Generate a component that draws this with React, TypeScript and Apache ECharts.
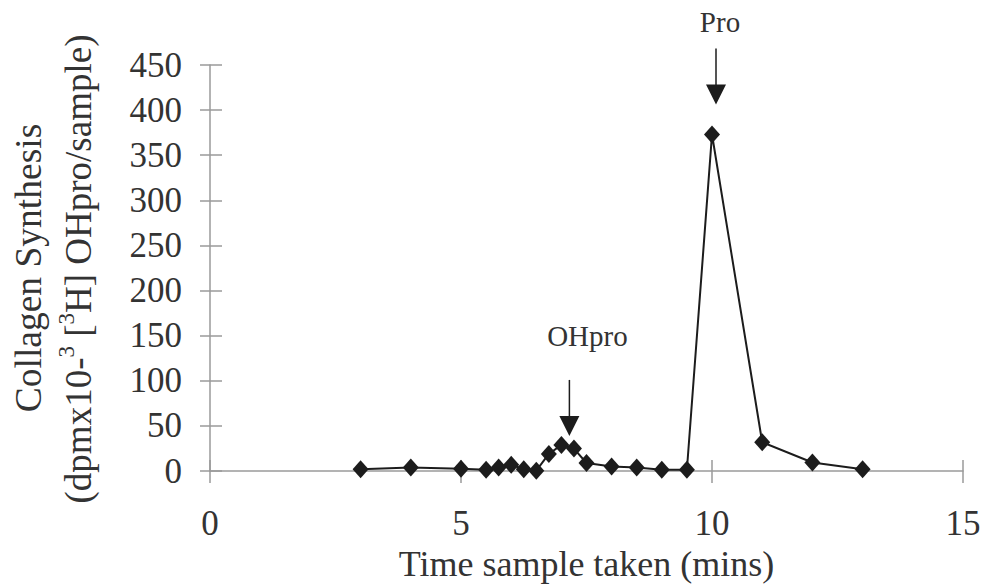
import React, { useEffect, useRef } from "react";
import * as echarts from "echarts";

const timeMins = [3, 4, 5, 5.5, 5.75, 6, 6.25, 6.5, 6.75, 7, 7.25, 7.5, 8, 8.5, 9, 9.5, 10, 11, 12, 13];
const synthesis = [2, 4, 2.5, 1.5, 4, 7, 2, 0.5, 19, 29, 25, 9, 5, 4, 1.5, 1.5, 373, 32, 9.5, 2];
const xTicks = [0, 5, 10, 15];
const yTicks = [0, 50, 100, 150, 200, 250, 300, 350, 400, 450];
const annotationLabels = ["OHpro", "Pro"];
const annotationTimes = [7, 10];
const annotationValues = [29, 373];

const FONT = "Liberation Serif";
const AXIS = "#9a9a9a";
const INK = "#1c1c1c";
const TEXT = "#333333";

// placement of the arrows relative to the pointed-at point (pixels)
const arrowLayout = [
  { dx: 8, tipGap: 9, textDx: 26, textGap: 44 },
  { dx: 4, tipGap: 30, textDx: 8, textGap: 26 },
];

export default function App() {
  const ref = useRef<HTMLDivElement>(null);
  useEffect(() => {
    if (!ref.current) return;
    const chart = echarts.init(ref.current, undefined, { renderer: "svg" });
    const grid = { left: 210, right: 22, top: 65, bottom: 114 };
    const xBase = {
      type: "value" as const,
      min: xTicks[0],
      max: xTicks[xTicks.length - 1],
      interval: 5,
      splitLine: { show: false },
    };
    const yBase = {
      type: "value" as const,
      min: yTicks[0],
      max: yTicks[yTicks.length - 1],
      interval: 50,
      splitLine: { show: false },
    };
    chart.setOption({
      animation: false,
      backgroundColor: "#ffffff",
      textStyle: { fontFamily: FONT },
      grid,
      xAxis: [
        {
          ...xBase,
          position: "bottom",
          axisLine: { show: true, onZero: false, lineStyle: { color: AXIS, width: 1.5 } },
          axisTick: { show: true, inside: false, length: 12, lineStyle: { color: AXIS, width: 1.5 } },
          axisLabel: { fontFamily: FONT, fontSize: 35, color: TEXT, margin: 35 },
          name: "Time sample taken (mins)",
          nameLocation: "middle",
          nameGap: 73,
          nameTextStyle: { fontFamily: FONT, fontSize: 36, color: TEXT },
        },
        {
          ...xBase,
          position: "bottom",
          axisLine: { show: false, onZero: false },
          axisTick: { show: true, inside: true, length: 11, lineStyle: { color: AXIS, width: 1.5 } },
          axisLabel: { show: false },
        },
      ],
      yAxis: [
        {
          ...yBase,
          position: "left",
          axisLine: { show: true, onZero: false, lineStyle: { color: AXIS, width: 1.5 } },
          axisTick: { show: true, inside: false, length: 10, lineStyle: { color: AXIS, width: 1.5 } },
          axisLabel: { fontFamily: FONT, fontSize: 35, color: TEXT, margin: 28 },
        },
        {
          ...yBase,
          position: "left",
          axisLine: { show: false, onZero: false },
          axisTick: { show: true, inside: true, length: 12, lineStyle: { color: AXIS, width: 1.5 } },
          axisLabel: { show: false },
        },
      ],
      series: [
        {
          type: "line",
          xAxisIndex: 0,
          yAxisIndex: 0,
          data: timeMins.map((t, i) => [t, synthesis[i]]),
          symbol: "diamond",
          symbolSize: [16, 18],
          showSymbol: true,
          lineStyle: { color: INK, width: 2 },
          itemStyle: { color: INK },
          z: 3,
        },
      ],
    });

    const g: any[] = [];
    annotationLabels.forEach((label, i) => {
      const L = arrowLayout[i];
      const [cx, cy] = chart.convertToPixel({ seriesIndex: 0 }, [annotationTimes[i], annotationValues[i]]) as number[];
      const px = cx + L.dx;
      const tip = cy - L.tipGap;
      const headH = 20;
      const shaftTop = tip - 56;
      g.push({
        type: "line",
        shape: { x1: px, y1: shaftTop, x2: px, y2: tip - headH + 2 },
        style: { stroke: INK, lineWidth: 1.5 },
      });
      g.push({
        type: "polygon",
        shape: { points: [[px - 10, tip - headH], [px + 10, tip - headH], [px, tip]] },
        style: { fill: INK },
      });
      g.push({
        type: "text",
        x: px + L.textDx - L.dx,
        y: shaftTop - L.textGap,
        style: {
          text: label,
          fontFamily: FONT,
          fontSize: 29,
          fill: TEXT,
          align: "center",
          verticalAlign: "middle",
        },
      });
    });
    g.push({
      type: "text",
      x: 28,
      y: 268,
      rotation: Math.PI / 2,
      style: {
        text: "Collagen Synthesis",
        fontFamily: FONT,
        fontSize: 37.5,
        fill: TEXT,
        align: "center",
        verticalAlign: "middle",
      },
    });
    g.push({
      type: "text",
      x: 76,
      y: 269,
      rotation: Math.PI / 2,
      style: {
        text: "{n|(dpmx10-}{s|3}{n| [}{s|3}{n|H] OHpro/sample)}",
        align: "center",
        verticalAlign: "middle",
        rich: {
          n: { fontFamily: FONT, fontSize: 37, fill: TEXT, lineHeight: 42, verticalAlign: "bottom" },
          s: { fontFamily: FONT, fontSize: 23, fill: TEXT, lineHeight: 42, verticalAlign: "top" },
        },
      },
    });
    chart.setOption({ graphic: g });

    return () => chart.dispose();
  }, []);
  return (
    <div
      ref={ref}
      style={{ position: "fixed", left: 0, top: 0, width: 985, height: 587, background: "#fff" }}
    />
  );
}
